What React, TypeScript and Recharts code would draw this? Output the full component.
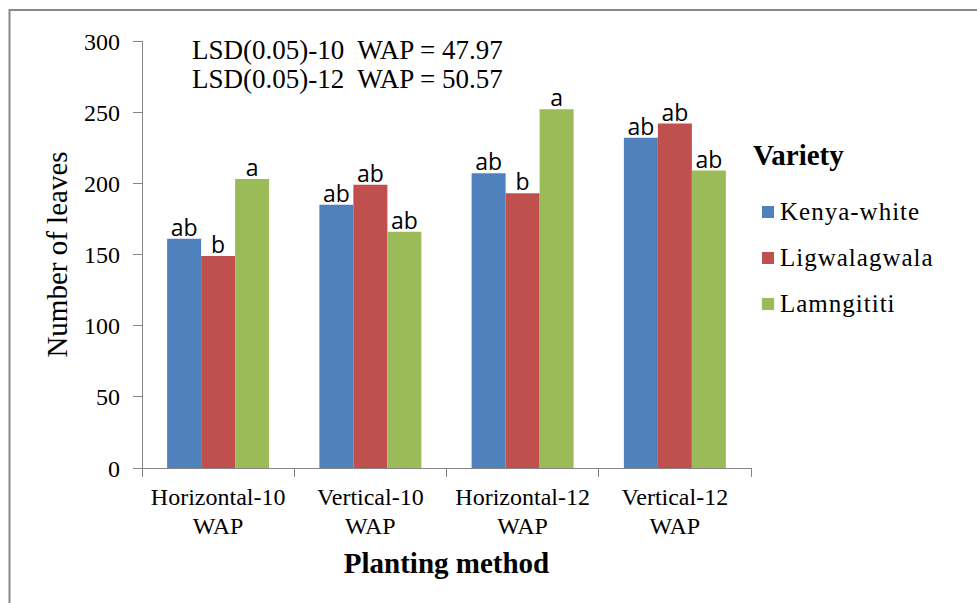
import React from 'react';
import { BarChart, Bar, XAxis, YAxis, Legend, LabelList } from 'recharts';

const categories = ['Horizontal-10 WAP', 'Vertical-10 WAP', 'Horizontal-12 WAP', 'Vertical-12 WAP'];
const seriesNames = ['Kenya-white', 'Ligwalagwala', 'Lamngititi'];
const kenyaWhite = [161, 185, 207, 232];
const ligwalagwala = [149, 199, 193, 242];
const lamngititi = [203, 166, 252, 209];
const kenyaWhiteLetters = ['ab', 'ab', 'ab', 'ab'];
const ligwalagwalaLetters = ['b', 'ab', 'b', 'ab'];
const lamngititiLetters = ['a', 'ab', 'a', 'ab'];
const yTicks = [0, 50, 100, 150, 200, 250, 300];
const lsdNotes = ['LSD(0.05)-10  WAP = 47.97', 'LSD(0.05)-12  WAP = 50.57'];

const COLORS = ['#4F81BD', '#C0504D', '#9BBB59'];
const SERIF = "'Liberation Serif', 'Times New Roman', serif";
const SANS = "'Open Sans', 'Noto Sans', sans-serif";
const AXIS = '#868686';

const data = categories.map((category, i) => ({
  category,
  kw: kenyaWhite[i],
  lg: ligwalagwala[i],
  lm: lamngititi[i],
  kwL: kenyaWhiteLetters[i],
  lgL: ligwalagwalaLetters[i],
  lmL: lamngititiLetters[i],
}));

const serifStyle = (size: number, bold = false, spacing = 0): React.CSSProperties => ({
  fontFamily: SERIF,
  fontSize: size,
  fontWeight: bold ? 'bold' : 'normal',
  letterSpacing: spacing,
  whiteSpace: 'pre',
});

const XTick = (props: any) => {
  const { x, y, payload, width, visibleTicksCount, index } = props;
  const s = String(payload.value);
  const i = s.lastIndexOf(' ');
  const l1 = s.slice(0, i);
  const l2 = s.slice(i + 1);
  const half = Number(width) / Number(visibleTicksCount) / 2;
  return (
    <g>
      <line x1={x - half} x2={x - half} y1={y} y2={y + 9} stroke={AXIS} shapeRendering="crispEdges" />
      {index === visibleTicksCount - 1 && (
        <line x1={x + half} x2={x + half} y1={y} y2={y + 9} stroke={AXIS} shapeRendering="crispEdges" />
      )}
      <text x={x} y={y + 37} textAnchor="middle" fill="#000" stroke="none" style={serifStyle(24)}>{l1}</text>
      <text x={x} y={y + 66} textAnchor="middle" fill="#000" stroke="none" style={serifStyle(24)}>{l2}</text>
    </g>
  );
};

const YLabel = (props: any) => {
  const vb = props.viewBox || {};
  const x = vb.x - 15;
  const y = vb.y + vb.height / 2;
  return (
    <text x={x} y={y} transform={`rotate(-90 ${x} ${y})`} textAnchor="middle" fill="#000" style={serifStyle(29)}>
      Number of leaves
    </text>
  );
};

const XLabel = (props: any) => {
  const vb = props.viewBox || {};
  const x = vb.x + vb.width / 2;
  const y = vb.y + 105;
  return (
    <text x={x} y={y} textAnchor="middle" fill="#000" style={serifStyle(29, true)}>
      Planting method
    </text>
  );
};

const LegendContent = (props: any) => {
  const payload = [...(props.payload || [])].sort(
    (a: any, b: any) => seriesNames.indexOf(a.value) - seriesNames.indexOf(b.value)
  );
  return (
    <svg width={220} height={200} style={{ display: 'block', overflow: 'visible' }}>
      <text x={1} y={35} fill="#000" style={serifStyle(29, true)}>Variety</text>
      {payload.map((p: any, i: number) => (
        <g key={p.value}>
          <rect x={10} y={76 + i * 46} width={12} height={12} fill={p.color} />
          <text x={28} y={90 + i * 46} fill="#000" style={serifStyle(25, false, 1)}>{p.value}</text>
        </g>
      ))}
    </svg>
  );
};

export default function App() {
  return (
    <div style={{ position: 'absolute', left: 0, top: 0, width: 977, height: 603, overflow: 'hidden', background: '#fff' }}>
      <BarChart
        width={977}
        height={603}
        data={data}
        margin={{ top: 41, right: 226, left: 82, bottom: 134 }}
        barCategoryGap="16.5%"
        barGap={0}
      >
        <XAxis
          dataKey="category"
          height={1}
          stroke={AXIS}
          axisLine={{ stroke: AXIS, shapeRendering: 'crispEdges' }}
          tickLine={false}
          tickSize={0}
          tickMargin={0}
          tick={<XTick />}
          interval={0}
          label={XLabel}
        />
        <YAxis
          width={60}
          domain={[0, 300]}
          ticks={yTicks}
          stroke={AXIS}
          axisLine={{ stroke: AXIS, shapeRendering: 'crispEdges' }}
          tickLine={{ stroke: AXIS, shapeRendering: 'crispEdges' }}
          tickSize={9}
          tickMargin={13}
          tick={{ fontFamily: SERIF, fontSize: 24, fill: '#000', stroke: 'none' }}
          label={YLabel}
        />
        <Legend
          content={<LegendContent />}
          wrapperStyle={{ position: 'absolute', left: 752, top: 130, width: 220, height: 0, overflow: 'visible' }}
        />
        <Bar dataKey="kw" name={seriesNames[0]} fill={COLORS[0]} isAnimationActive={false}>
          <LabelList dataKey="kwL" position="top" offset={3} fill="#000" fontFamily={SANS} fontSize={23} />
        </Bar>
        <Bar dataKey="lg" name={seriesNames[1]} fill={COLORS[1]} isAnimationActive={false}>
          <LabelList dataKey="lgL" position="top" offset={3} fill="#000" fontFamily={SANS} fontSize={23} />
        </Bar>
        <Bar dataKey="lm" name={seriesNames[2]} fill={COLORS[2]} isAnimationActive={false}>
          <LabelList dataKey="lmL" position="top" offset={3} fill="#000" fontFamily={SANS} fontSize={23} />
        </Bar>
      </BarChart>
      <svg width={977} height={603} style={{ position: 'absolute', left: 0, top: 0, pointerEvents: 'none' }}>
        <rect x={9.5} y={10} width={1100} height={800} fill="none" stroke="#888" strokeWidth={2} />
        {lsdNotes.map((t, i) => (
          <text key={t} x={192} y={59 + i * 29} fill="#000" style={serifStyle(27)}>{t}</text>
        ))}
      </svg>
    </div>
  );
}
